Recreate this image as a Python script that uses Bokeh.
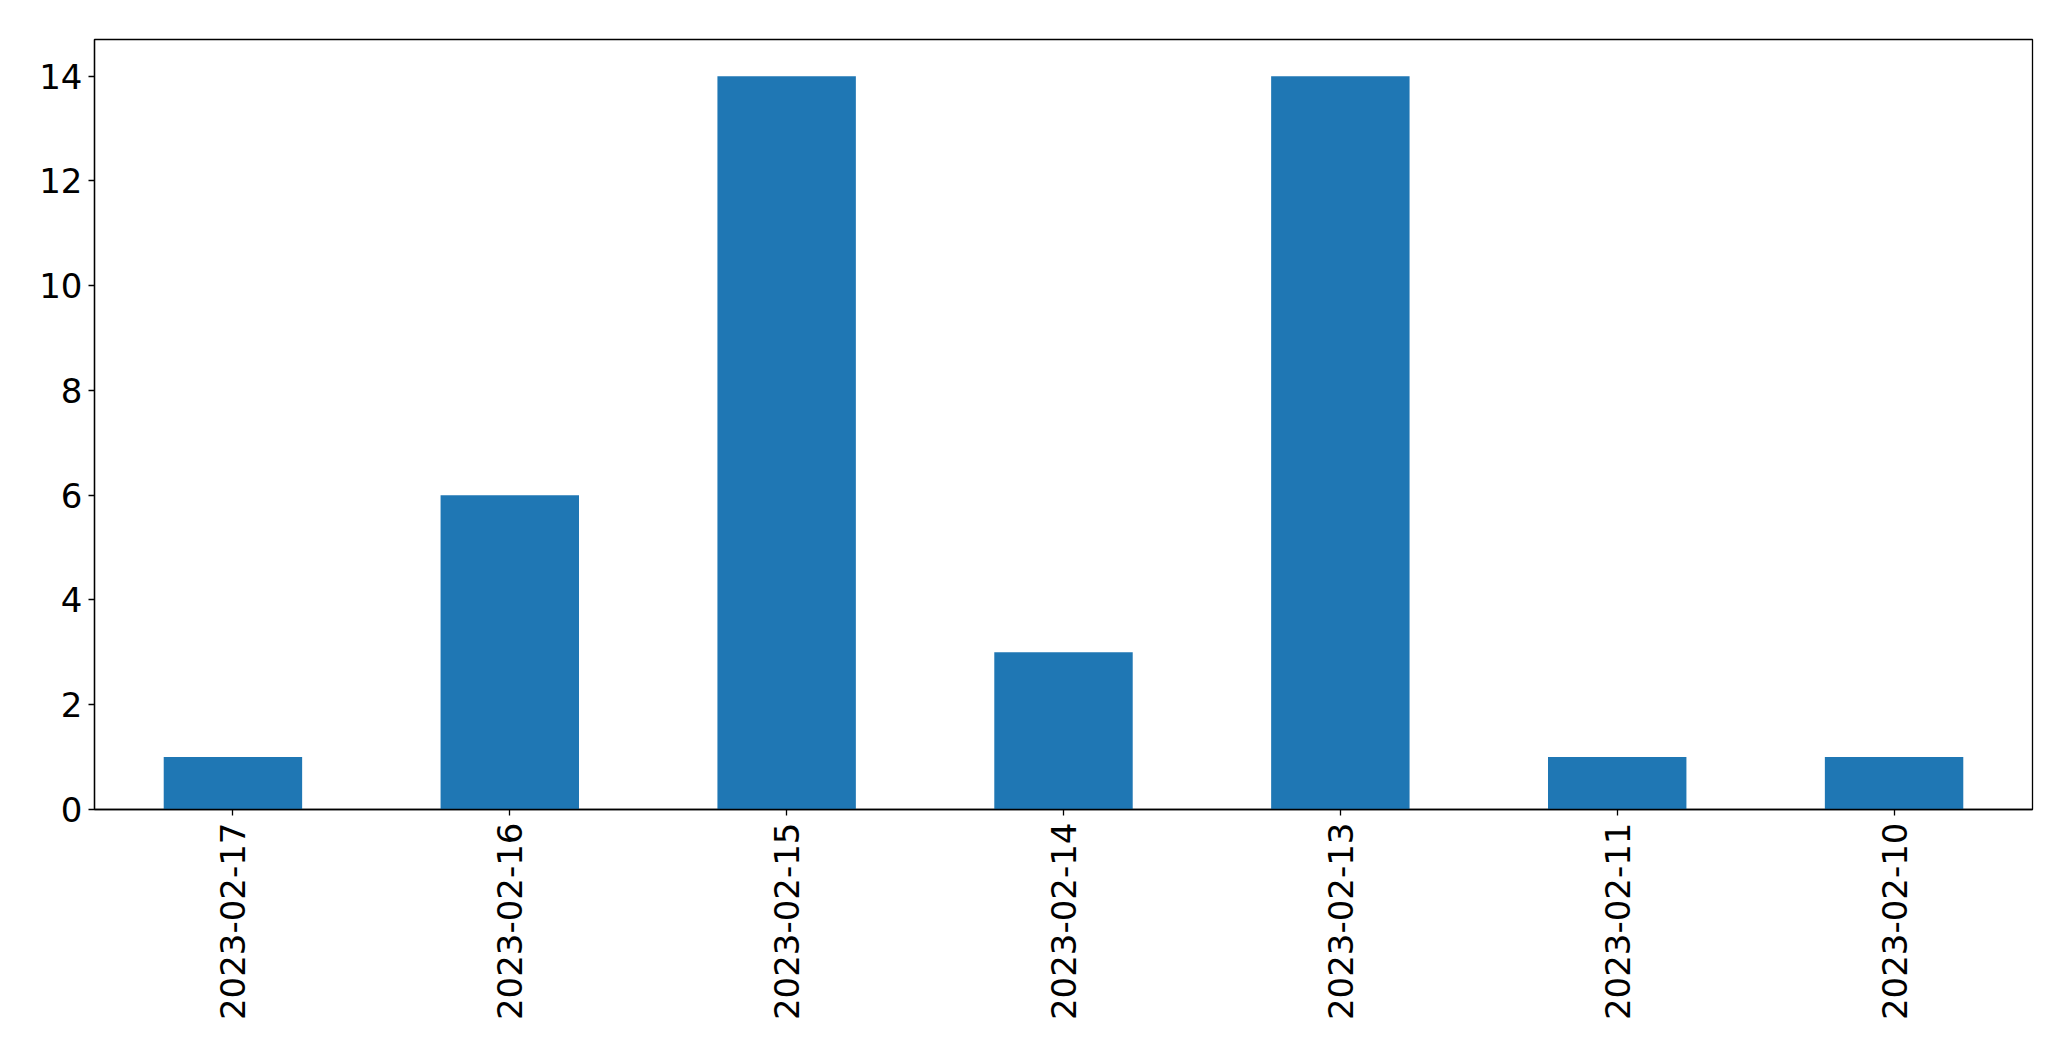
import math
from bokeh.plotting import figure
from bokeh.models import FactorRange, Range1d, FixedTicker
from bokeh.embed import file_html
from bokeh.resources import INLINE

dates = ["2023-02-17", "2023-02-16", "2023-02-15", "2023-02-14", "2023-02-13", "2023-02-11", "2023-02-10"]
counts = [1, 6, 14, 3, 14, 1, 1]
y_ticks = [0, 2, 4, 6, 8, 10, 12, 14]

p = figure(
    x_range=FactorRange(*dates, range_padding=0),
    y_range=Range1d(0, 14.7),
    width=2055, height=1045,
    output_backend="svg", toolbar_location=None,
    min_border_left=94, min_border_top=39, min_border_right=23, min_border_bottom=236,
)
p.vbar(x=dates, top=counts, width=0.5, color="#1f77b4", line_color=None)

p.xgrid.visible = False
p.ygrid.visible = False
p.outline_line_color = "black"
p.outline_line_width = 1.3
p.outline_line_alpha = 1.0

for ax in (p.xaxis[0], p.yaxis[0]):
    ax.axis_line_color = "black"
    ax.axis_line_width = 1.3
    ax.major_tick_line_color = "black"
    ax.major_tick_line_width = 1.3
    ax.major_tick_in = 0
    ax.major_tick_out = 6
    ax.minor_tick_line_color = None
    ax.major_label_text_font = "DejaVu Sans"
    ax.major_label_text_font_size = "34px"
    ax.major_label_text_color = "black"

p.yaxis[0].ticker = FixedTicker(ticks=y_ticks)
p.yaxis[0].major_label_standoff = 6
p.xaxis[0].major_label_orientation = math.pi / 2
p.xaxis[0].major_label_standoff = 7

open("out.html", "w").write(file_html(p, INLINE))
